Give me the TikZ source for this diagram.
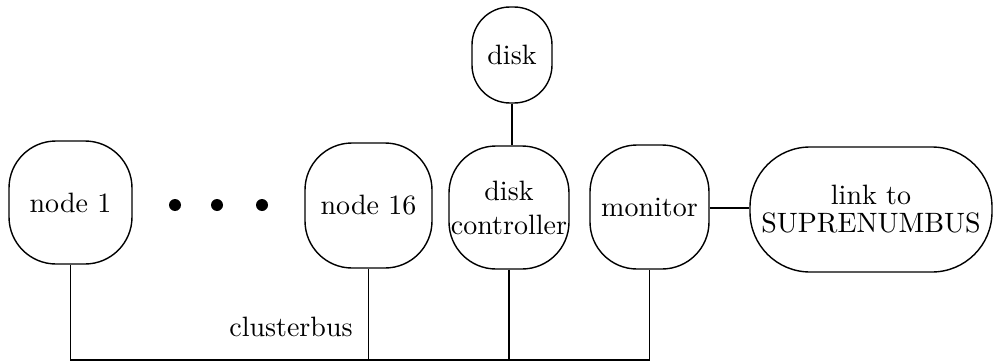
\documentclass[tikz,border=0pt]{standalone}
\usepackage{fontspec}
\setmainfont{lmroman10-regular.otf}
\begin{document}
\begin{tikzpicture}[x=1pt,y=-1pt,
  unit/.style={draw, line width=1.4pt, rounded corners=#1, inner sep=0pt, align=center,
               font=\fontsize{28}{34}\selectfont},
  unit/.default=47pt,
  wire/.style={line width=1.4pt},
  bigdot/.style={circle, fill, inner sep=0pt, minimum size=12pt}]
\useasboundingbox (0,0) rectangle (994,364);

% processing nodes and peripherals
\node[unit, minimum width=123pt, minimum height=123pt] (n1) at (70.5,202.5) {node 1};
\node[unit, minimum width=127pt, minimum height=125pt] (n16) at (368.5,205.5) {node 16};
\node[unit, minimum width=120pt, minimum height=123pt] (ctrl) at (509,207.5) {disk\\controller};
\node[unit=38pt, minimum width=80pt, minimum height=96pt] (disk) at (512,55) {disk};
\node[unit, minimum width=119pt, minimum height=124pt] (mon) at (649.5,207) {monitor};
\node[unit=60pt, minimum width=242pt, minimum height=125pt,
      font=\fontsize{28}{28}\selectfont] (link) at (871,209.5) {link to\\SUPRENUMBUS};

% ellipsis between node 1 and node 16
\node[bigdot] (d1) at (175,205) {};
\node[bigdot] (d2) at (217,205) {};
\node[bigdot] (d3) at (262,205) {};

% cluster bus
\coordinate (b1) at (n1.south |- 0,360);
\coordinate (b16) at (n16.south |- 0,360);
\coordinate (bc) at (ctrl.south |- 0,360);
\coordinate (bm) at (mon.south |- 0,360);
\draw[wire] (n1.south) -- (b1) -- (bm) -- (mon.south);
\draw[wire] (n16.south) -- (b16);
\draw[wire] (ctrl.south) -- (bc);
\node[anchor=base, font=\fontsize{28}{34}\selectfont] (cb) at (291,336) {clusterbus};

% other links
\draw[wire] (disk.south) -- (disk.south |- ctrl.north);
\coordinate (ml) at (mon.east |- 0,208);
\draw[wire] (ml) -- (ml -| link.west);
\end{tikzpicture}
\end{document}
